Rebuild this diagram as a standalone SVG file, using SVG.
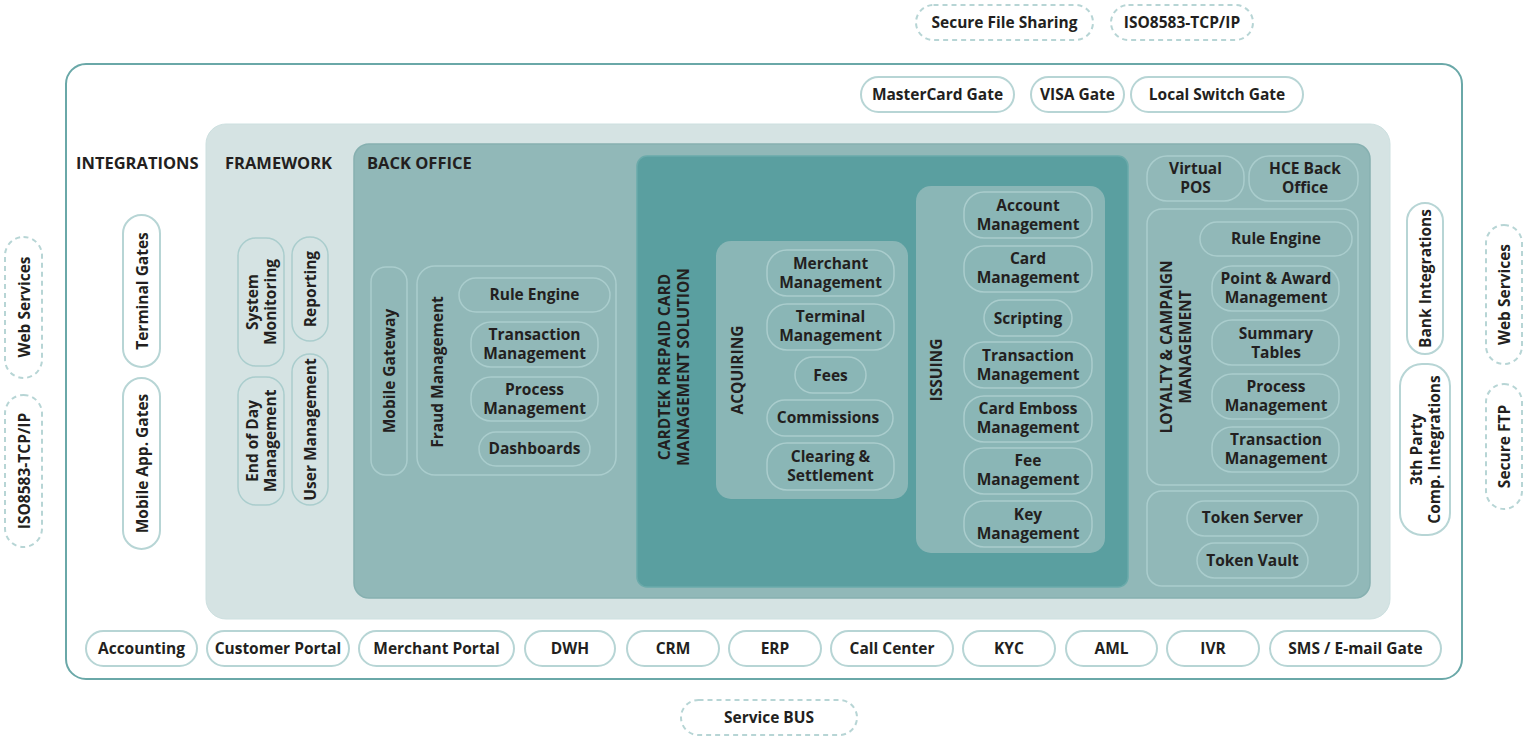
<svg xmlns="http://www.w3.org/2000/svg" width="1532" height="736" viewBox="0 0 1532 736">
<style>
.t{font-family:"Open Sans","DejaVu Sans",sans-serif;font-weight:700;font-size:15.5px;fill:#231f20;text-anchor:middle;dominant-baseline:central}
.h{font-family:"Open Sans","DejaVu Sans",sans-serif;font-weight:700;font-size:16.5px;fill:#231f20}
.w{fill:#fff;stroke:#b7d5d5;stroke-width:2}
.d{fill:#fff;stroke:#b7d5d5;stroke-width:2;stroke-dasharray:5 4}
.n{fill:none;stroke:#aacdcd;stroke-width:1.5}
</style>
<g id="outer"><rect x="66" y="64" width="1396" height="615" rx="20" fill="#fff" stroke="#6aa8a8" stroke-width="2"/></g>
<g id="framework-area"><rect x="206" y="124" width="1184" height="495" rx="20" fill="#d5e3e3" stroke="#cde0e0"/></g>
<g id="backoffice-area"><rect x="354" y="144" width="1016" height="454" rx="15" fill="#91b8b8" stroke="#86b0b0" stroke-width="1.5"/></g>
<g id="cardtek-area"><rect x="637" y="156" width="491" height="431" rx="10" fill="#5a9fa0" stroke="#6aaaaa" stroke-width="1.5"/></g>
<g id="acquiring-area"><rect x="716" y="241" width="192" height="258" rx="15" fill="#8ab6b6"/></g>
<g id="issuing-area"><rect x="916" y="186" width="189" height="367" rx="15" fill="#8ab6b6"/></g>
<g id="connectors"></g>

<text class="h" x="76" y="169">INTEGRATIONS</text>
<text class="h" x="225" y="169">FRAMEWORK</text>
<text class="h" x="367" y="169">BACK OFFICE</text>

<g id="top-dashed">
<g id="secure-file-sharing"><rect class="d" x="916" y="5" width="177" height="35" rx="17.5"/><text class="t" x="1004.5" y="21.5">Secure File Sharing</text></g>
<g id="iso-top"><rect class="d" x="1111" y="5" width="142" height="35" rx="17.5"/><text class="t" x="1182" y="21.5">ISO8583-TCP/IP</text></g>
</g>
<g id="gates">
<g id="mastercard"><rect class="w" x="861" y="77" width="153" height="35" rx="17.5"/><text class="t" x="937.5" y="93.5">MasterCard Gate</text></g>
<g id="visa"><rect class="w" x="1031" y="77" width="93" height="35" rx="17.5"/><text class="t" x="1077.5" y="93.5">VISA Gate</text></g>
<g id="local"><rect class="w" x="1131" y="77" width="172" height="35" rx="17.5"/><text class="t" x="1217" y="93.5">Local Switch Gate</text></g>
</g>

<g id="left-dashed">
<g id="ws-left"><rect class="d" x="5" y="237" width="37" height="141" rx="18.5"/><text class="t" transform="translate(23.5 307) rotate(-90)">Web Services</text></g>
<g id="iso-left"><rect class="d" x="5" y="395" width="37" height="152" rx="18.5"/><text class="t" transform="translate(23.5 471) rotate(-90)">ISO8583-TCP/IP</text></g>
</g>
<g id="integrations">
<g id="terminal-gates"><rect class="w" x="123" y="215" width="37" height="152" rx="18.5"/><text class="t" transform="translate(141.5 291) rotate(-90)">Terminal Gates</text></g>
<g id="mobile-app-gates"><rect class="w" x="123" y="378" width="37" height="171" rx="18.5"/><text class="t" transform="translate(141.5 463.5) rotate(-90)">Mobile App. Gates</text></g>
</g>

<g id="framework-nodes">
<g id="system-monitoring"><rect class="n" x="238" y="238" width="46" height="128" rx="18"/><text class="t" transform="translate(252 302) rotate(-90)">System</text><text class="t" transform="translate(270 302) rotate(-90)">Monitoring</text></g>
<g id="reporting"><rect class="n" x="292" y="237" width="36" height="104" rx="18"/><text class="t" transform="translate(310 289) rotate(-90)">Reporting</text></g>
<g id="end-of-day"><rect class="n" x="238" y="377" width="46" height="128" rx="18"/><text class="t" transform="translate(252 441) rotate(-90)">End of Day</text><text class="t" transform="translate(270 441) rotate(-90)">Management</text></g>
<g id="user-management"><rect class="n" x="292" y="354" width="36" height="151" rx="18"/><text class="t" transform="translate(310 429.5) rotate(-90)">User Management</text></g>
</g>

<g id="mobile-gateway"><rect class="n" x="371" y="267" width="36" height="208" rx="15"/><text class="t" transform="translate(389 371) rotate(-90)">Mobile Gateway</text></g>
<g id="fraud-management"><rect class="n" x="417" y="266" width="199" height="209" rx="18"/><text class="t" transform="translate(437 372) rotate(-90)">Fraud Management</text>
<g id="fm-rule"><rect class="n" x="459" y="278" width="151" height="34" rx="17"/><text class="t" x="534.5" y="294">Rule Engine</text></g>
<g id="fm-trans"><rect class="n" x="471" y="322" width="127" height="45" rx="20"/><text class="t" x="534.5" y="334">Transaction</text><text class="t" x="534.5" y="353">Management</text></g>
<g id="fm-proc"><rect class="n" x="471" y="377" width="127" height="44" rx="20"/><text class="t" x="534.5" y="388.5">Process</text><text class="t" x="534.5" y="407.5">Management</text></g>
<g id="fm-dash"><rect class="n" x="479" y="432" width="111" height="34" rx="17"/><text class="t" x="534.5" y="448">Dashboards</text></g>
</g>

<g id="cardtek-label"><text class="t" transform="translate(664 367) rotate(-90)">CARDTEK PREPAID CARD</text><text class="t" transform="translate(683 367) rotate(-90)">MANAGEMENT SOLUTION</text></g>

<g id="acquiring"><text class="t" transform="translate(737 370) rotate(-90)">ACQUIRING</text>
<g id="merchant-mgmt"><rect class="n" x="767" y="250" width="127" height="46" rx="20"/><text class="t" x="830.5" y="262.5">Merchant</text><text class="t" x="830.5" y="281.5">Management</text></g>
<g id="terminal-mgmt"><rect class="n" x="767" y="304" width="127" height="46" rx="20"/><text class="t" x="830.5" y="316">Terminal</text><text class="t" x="830.5" y="335">Management</text></g>
<g id="fees"><rect class="n" x="795" y="357" width="71" height="36" rx="18"/><text class="t" x="830.5" y="375">Fees</text></g>
<g id="commissions"><rect class="n" x="767" y="400" width="126" height="36" rx="18"/><text class="t" x="828" y="417">Commissions</text></g>
<g id="clearing"><rect class="n" x="767" y="443" width="127" height="47" rx="20"/><text class="t" x="830.5" y="455.5">Clearing &amp;</text><text class="t" x="830.5" y="474.5">Settlement</text></g>
</g>

<g id="issuing"><text class="t" transform="translate(936 370) rotate(-90)">ISSUING</text>
<g id="account-mgmt"><rect class="n" x="964" y="192" width="128" height="46" rx="20"/><text class="t" x="1028" y="204.5">Account</text><text class="t" x="1028" y="223.5">Management</text></g>
<g id="card-mgmt"><rect class="n" x="964" y="246" width="128" height="46" rx="20"/><text class="t" x="1028" y="257.5">Card</text><text class="t" x="1028" y="276.5">Management</text></g>
<g id="scripting"><rect class="n" x="984" y="300" width="88" height="36" rx="18"/><text class="t" x="1028" y="317.5">Scripting</text></g>
<g id="iss-trans"><rect class="n" x="964" y="342" width="128" height="46" rx="20"/><text class="t" x="1028" y="354.5">Transaction</text><text class="t" x="1028" y="373.5">Management</text></g>
<g id="emboss"><rect class="n" x="964" y="396" width="128" height="46" rx="20"/><text class="t" x="1028" y="407.5">Card Emboss</text><text class="t" x="1028" y="426.5">Management</text></g>
<g id="fee-mgmt"><rect class="n" x="964" y="448" width="128" height="46" rx="20"/><text class="t" x="1028" y="460">Fee</text><text class="t" x="1028" y="479">Management</text></g>
<g id="key-mgmt"><rect class="n" x="964" y="501" width="128" height="46" rx="20"/><text class="t" x="1028" y="513.5">Key</text><text class="t" x="1028" y="532.5">Management</text></g>
</g>

<g id="virtual-pos"><rect class="n" x="1147" y="156" width="97" height="45" rx="20"/><text class="t" x="1195.5" y="167.5">Virtual</text><text class="t" x="1195.5" y="186.5">POS</text></g>
<g id="hce"><rect class="n" x="1249" y="156" width="109" height="45" rx="20"/><text class="t" x="1305" y="167.5">HCE Back</text><text class="t" x="1305" y="186.5">Office</text></g>

<g id="loyalty"><rect class="n" x="1147" y="209" width="211" height="276" rx="15"/>
<text class="t" transform="translate(1166 347) rotate(-90)">LOYALTY &amp; CAMPAIGN</text><text class="t" transform="translate(1185 347) rotate(-90)">MANAGEMENT</text>
<g id="ly-rule"><rect class="n" x="1200" y="222" width="152" height="34" rx="17"/><text class="t" x="1276" y="237.5">Rule Engine</text></g>
<g id="ly-point"><rect class="n" x="1212" y="266" width="127" height="45" rx="20"/><text class="t" x="1276" y="277.5">Point &amp; Award</text><text class="t" x="1276" y="296.5">Management</text></g>
<g id="ly-summary"><rect class="n" x="1212" y="320" width="127" height="45" rx="20"/><text class="t" x="1276" y="332.5">Summary</text><text class="t" x="1276" y="351.5">Tables</text></g>
<g id="ly-proc"><rect class="n" x="1212" y="374" width="127" height="45" rx="20"/><text class="t" x="1276" y="385.5">Process</text><text class="t" x="1276" y="404.5">Management</text></g>
<g id="ly-trans"><rect class="n" x="1212" y="427" width="127" height="45" rx="20"/><text class="t" x="1276" y="438.5">Transaction</text><text class="t" x="1276" y="457.5">Management</text></g>
</g>

<g id="token"><rect class="n" x="1147" y="491" width="211" height="95" rx="15"/>
<g id="token-server"><rect class="n" x="1187" y="501" width="131" height="35" rx="17.5"/><text class="t" x="1252.5" y="516.5">Token Server</text></g>
<g id="token-vault"><rect class="n" x="1197" y="543" width="111" height="35" rx="17.5"/><text class="t" x="1252.5" y="559.5">Token Vault</text></g>
</g>

<g id="right-integrations">
<g id="bank-int"><rect class="w" x="1407" y="203" width="36" height="151" rx="18"/><text class="t" transform="translate(1425 278.5) rotate(-90)">Bank Integrations</text></g>
<g id="third-party"><rect class="w" x="1400" y="364" width="50" height="171" rx="22"/><text class="t" transform="translate(1416 449.5) rotate(-90)">3th Party</text><text class="t" transform="translate(1434 449.5) rotate(-90)">Comp. Integrations</text></g>
</g>
<g id="right-dashed">
<g id="ws-right"><rect class="d" x="1486" y="225" width="36" height="139" rx="18"/><text class="t" transform="translate(1504 294.5) rotate(-90)">Web Services</text></g>
<g id="sftp"><rect class="d" x="1486" y="384" width="36" height="125" rx="18"/><text class="t" transform="translate(1504 446.5) rotate(-90)">Secure FTP</text></g>
</g>

<g id="bottom-row">
<g id="accounting"><rect class="w" x="86" y="631" width="111" height="35" rx="17.5"/><text class="t" x="141.5" y="647.5">Accounting</text></g>
<g id="customer-portal"><rect class="w" x="207" y="631" width="142" height="35" rx="17.5"/><text class="t" x="278" y="647.5">Customer Portal</text></g>
<g id="merchant-portal"><rect class="w" x="359" y="631" width="155" height="35" rx="17.5"/><text class="t" x="436.5" y="647.5">Merchant Portal</text></g>
<g id="dwh"><rect class="w" x="525" y="631" width="90" height="35" rx="17.5"/><text class="t" x="570" y="647.5">DWH</text></g>
<g id="crm"><rect class="w" x="627" y="631" width="92" height="35" rx="17.5"/><text class="t" x="673" y="647.5">CRM</text></g>
<g id="erp"><rect class="w" x="729" y="631" width="92" height="35" rx="17.5"/><text class="t" x="775" y="647.5">ERP</text></g>
<g id="call-center"><rect class="w" x="831" y="631" width="122" height="35" rx="17.5"/><text class="t" x="892" y="647.5">Call Center</text></g>
<g id="kyc"><rect class="w" x="963" y="631" width="92" height="35" rx="17.5"/><text class="t" x="1009" y="647.5">KYC</text></g>
<g id="aml"><rect class="w" x="1066" y="631" width="91" height="35" rx="17.5"/><text class="t" x="1111.5" y="647.5">AML</text></g>
<g id="ivr"><rect class="w" x="1167" y="631" width="92" height="35" rx="17.5"/><text class="t" x="1213" y="647.5">IVR</text></g>
<g id="sms"><rect class="w" x="1270" y="631" width="171" height="35" rx="17.5"/><text class="t" x="1355.5" y="647.5">SMS / E-mail Gate</text></g>
</g>
<g id="service-bus"><rect class="d" x="681" y="700" width="176" height="35" rx="17.5"/><text class="t" x="769" y="717">Service BUS</text></g>
</svg>
